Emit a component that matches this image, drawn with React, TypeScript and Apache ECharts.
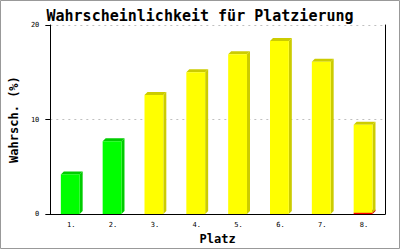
import React, { useEffect, useRef } from "react";
import * as echarts from "echarts";

const categories = ["1.", "2.", "3.", "4.", "5.", "6.", "7.", "8."];
const probabilities = [4.2, 7.7, 12.6, 15.0, 16.9, 18.3, 16.1, 9.3];
const redBase = [0, 0, 0, 0, 0, 0, 0, 0.15];
const greenCount = 2;
const yTicks = [0, 10, 20];

const GREEN = ["#00ff00", "#00cc00"];
const YELLOW = ["#ffff00", "#cccc00"];
const RED = ["#ff0000", "#cc0000"];

function makeRender(colorFor: (i: number) => string[]) {
  return (params: any, api: any) => {
    const idx = api.value(0);
    const lo = api.value(1);
    const hi = api.value(2);
    if (hi <= lo) return { type: "group", children: [] };
    const p0 = api.coord([idx, lo]);
    const p1 = api.coord([idx, hi]);
    const w = api.size([1, 0])[0] * 0.45;
    const d = 3;
    const xl = p0[0] - w / 2 - 1;
    const xr = xl + w;
    const top = p1[1];
    const bot = p0[1];
    const [front, side] = colorFor(idx);
    return {
      type: "group",
      children: [
        {
          type: "polygon",
          shape: { points: [[xr, top], [xr + d, top - d], [xr + d, bot - d], [xr, bot]] },
          style: { fill: side },
        },
        {
          type: "polygon",
          shape: { points: [[xl, top], [xl + d, top - d], [xr + d, top - d], [xr, top]] },
          style: { fill: side },
        },
        {
          type: "rect",
          shape: { x: xl, y: top, width: w, height: bot - top },
          style: { fill: front },
        },
      ],
    };
  };
}

export default function App() {
  const ref = useRef<HTMLDivElement>(null);
  useEffect(() => {
    if (!ref.current) return;
    const chart = echarts.init(ref.current, null, { renderer: "svg" });
    const mono = "DejaVu Sans Mono";
    const mainData = probabilities.map((v, i) => [i, redBase[i], redBase[i] + v]);
    const redData = redBase.map((v, i) => [i, 0, v]);
    chart.setOption({
      animation: false,
      backgroundColor: "#ffffff",
      title: {
        text: "Wahrscheinlichkeit für Platzierung",
        left: "center",
        top: 3,
        textStyle: { fontFamily: mono, fontSize: 15, fontWeight: "bold", color: "#000" },
      },
      grid: { left: 43, right: 15, top: 25, bottom: 35.5 },
      xAxis: {
        type: "category",
        data: categories,
        name: "Platz",
        nameLocation: "middle",
        nameGap: 17,
        nameTextStyle: { fontFamily: mono, fontSize: 12, fontWeight: "bold", color: "#000" },
        axisLine: { show: true, lineStyle: { color: "#000", width: 1 } },
        axisTick: { show: false },
        axisLabel: { fontFamily: mono, fontSize: 7, color: "#000", margin: 7 },
      },
      yAxis: [
        {
          type: "value",
          min: yTicks[0],
          max: yTicks[yTicks.length - 1],
          interval: 10,
          name: "Wahrsch. (%)",
          nameLocation: "middle",
          nameGap: 28,
          nameTextStyle: { fontFamily: mono, fontSize: 12, fontWeight: "bold", color: "#000" },
          axisLine: { show: true, lineStyle: { color: "#000", width: 1 } },
          axisTick: { show: true, length: 5, lineStyle: { color: "#000" } },
          axisLabel: { fontFamily: mono, fontSize: 7, color: "#000", margin: 11 },
          splitLine: { show: true, lineStyle: { color: "#c0c0c0", type: [2, 4] } },
        },
        {
          type: "value",
          position: "right",
          min: yTicks[0],
          max: yTicks[yTicks.length - 1],
          interval: 10,
          axisLine: { show: true, lineStyle: { color: "#000", width: 1 } },
          axisTick: { show: false },
          axisLabel: { show: false },
          splitLine: { show: false },
        },
      ],
      graphic: [
        {
          type: "rect",
          shape: { x: 0.5, y: 0.5, width: 399, height: 248 },
          style: { fill: "none", stroke: "#999999", lineWidth: 1 },
          silent: true,
          z: 100,
        },
      ],
      series: [
        {
          type: "custom",
          renderItem: makeRender(() => RED),
          data: redData,
          encode: { x: 0, y: [1, 2] },
        },
        {
          type: "custom",
          renderItem: makeRender((i) => (i < greenCount ? GREEN : YELLOW)),
          data: mainData,
          encode: { x: 0, y: [1, 2] },
        },
      ],
    });
    return () => chart.dispose();
  }, []);
  return (
    <div
      ref={ref}
      style={{ position: "absolute", left: 0, top: 0, width: 400, height: 250, background: "#fff" }}
    />
  );
}
